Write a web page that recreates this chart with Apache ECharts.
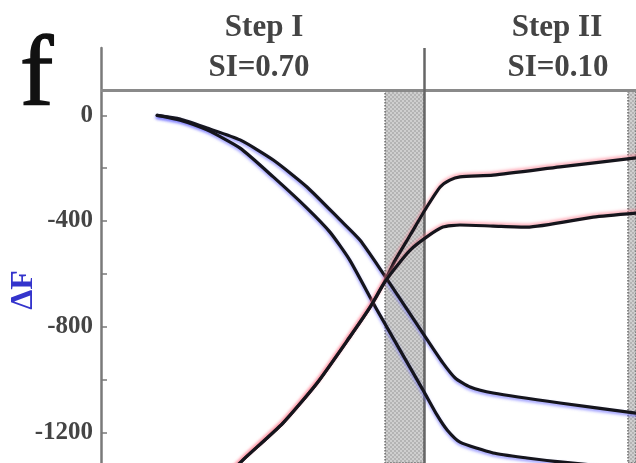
<!DOCTYPE html>
<html>
<head>
<meta charset="utf-8">
<script src="https://cdn.jsdelivr.net/npm/echarts@6/dist/echarts.min.js"></script>
<style>
  html, body { margin: 0; padding: 0; background: #ffffff; }
  #chart { width: 636px; height: 463px; }
</style>
</head>
<body>
<div id="chart"></div>
<script>
// ---- data (x: arbitrary progress units 0..100, y: ΔF) ----
const descendingUpper = [
  [10.5, 0], [14.8, -14], [19.8, -48], [26.0, -93], [32.2, -169], [38.5, -271],
  [44.7, -396], [48.4, -472], [52.7, -597], [57.8, -752], [60.9, -847],
  [63.9, -937], [66.2, -994], [69.0, -1028], [73.3, -1051], [85.8, -1089], [100, -1127]
];
const descendingLower = [
  [10.5, 0], [14.8, -18], [19.8, -55], [26.0, -124], [32.2, -233], [38.5, -351],
  [42.8, -442], [46.5, -548], [51.6, -737], [60.2, -1040], [62.8, -1134], [64.7, -1191],
  [67.1, -1237], [73.3, -1278], [79.6, -1297], [85.8, -1312], [100, -1339]
];
const ascendingUpper = [
  [23.2, -1373], [26.5, -1305], [34.0, -1165], [40.4, -1013], [46.5, -839],
  [50.3, -726], [52.7, -642], [55.0, -548], [57.8, -453], [60.9, -347],
  [63.4, -271], [65.2, -245], [67.1, -233], [73.3, -226], [85.8, -195], [100, -161]
];
const ascendingLower = [
  [23.2, -1373], [26.5, -1305], [34.0, -1165], [40.4, -1013], [46.5, -839],
  [50.3, -726], [52.7, -642], [55.0, -578], [57.8, -510], [60.9, -460],
  [63.9, -423], [67.1, -415], [73.3, -419], [79.6, -423], [92.0, -385], [100, -370]
];
const tickValues = [0, -200, -400, -600, -800, -1000, -1200];
const labelValues = [0, -400, -800, -1200];
const bands = [[53.1, 60.4], [98.5, 100]];
const stepBoundary = 60.4;
const headerLineValue = 94;
const stepTitles = ['Step I', 'Step II'];
const stepSI = ['SI=0.70', 'SI=0.10'];
const panelLetter = 'f';
const yName = 'ΔF';

// ---- pattern for shaded bands ----
const pat = document.createElement('canvas');
pat.width = 4; pat.height = 4;
const pc = pat.getContext('2d');
pc.fillStyle = '#cfcfcf'; pc.fillRect(0, 0, 4, 4);
pc.fillStyle = '#b4b4b4';
pc.fillRect(0, 0, 2, 2); pc.fillRect(2, 2, 2, 2);

const chart = echarts.init(document.getElementById('chart'), null, { renderer: 'canvas', width: 636, height: 463 });

const serif = '"Liberation Serif", "DejaVu Serif", serif';

function lineSeries(name, data, shadow, offY, extra) {
  return Object.assign({
    name: name,
    type: 'line',
    data: data,
    showSymbol: false,
    smooth: 0.2,
    clip: true,
    z: 5,
    lineStyle: {
      color: '#15151c', width: 3.2, cap: 'round', join: 'round',
      shadowColor: shadow, shadowBlur: 3, shadowOffsetY: offY
    },
    animation: false
  }, extra || {});
}

const option = {
  animation: false,
  grid: { left: 101, right: 0, top: 48, bottom: 0, containLabel: false },
  xAxis: { type: 'value', min: 0, max: 100, show: false },
  yAxis: {
    type: 'value', min: -1316, max: 255,
    axisLine: { show: true, onZero: false, lineStyle: { color: '#7a7a7a', width: 2.5 } },
    axisTick: { show: true, inside: true, length: 6, customValues: tickValues, lineStyle: { color: '#7a7a7a', width: 1.5 } },
    axisLabel: {
      show: true, customValues: labelValues, margin: 8,
      formatter: function (v) { return String(v); },
      fontFamily: serif, fontWeight: 'bold', fontSize: 25, color: '#444'
    },
    splitLine: { show: false }
  },
  graphic: [
    { type: 'text', x: 20, y: 79, style: { text: panelLetter, fontFamily: serif, fontSize: 100, fill: '#111', align: 'left', verticalAlign: 'middle', stroke: '#111', lineWidth: 1.5 } },
    { type: 'text', x: 24, y: 290, rotation: Math.PI / 2, style: { text: yName, fontFamily: serif, fontWeight: 'bold', fontSize: 32, fill: '#3434cc', align: 'center', verticalAlign: 'middle' } },
    { type: 'text', x: 264, y: 28, style: { text: stepTitles[0], fontFamily: serif, fontWeight: 'bold', fontSize: 31, fill: '#444', align: 'center', verticalAlign: 'middle' } },
    { type: 'text', x: 259, y: 68, style: { text: stepSI[0], fontFamily: serif, fontWeight: 'bold', fontSize: 31, fill: '#444', align: 'center', verticalAlign: 'middle' } },
    { type: 'text', x: 557, y: 28, style: { text: stepTitles[1], fontFamily: serif, fontWeight: 'bold', fontSize: 31, fill: '#444', align: 'center', verticalAlign: 'middle' } },
    { type: 'text', x: 558, y: 68, style: { text: stepSI[1], fontFamily: serif, fontWeight: 'bold', fontSize: 31, fill: '#444', align: 'center', verticalAlign: 'middle' } }
  ],
  series: [
    lineSeries('descending upper', descendingUpper, 'rgba(110,110,255,0.7)', 2, {
      markArea: {
        silent: true,
        itemStyle: { color: { image: pat, repeat: 'repeat' }, borderColor: '#6a6a6a', borderWidth: 1.5, borderType: 'dotted' },
        data: bands.map(b => [{ xAxis: b[0], yAxis: headerLineValue }, { xAxis: b[1], yAxis: -1316 }])
      },
      markLine: {
        silent: true, symbol: 'none', animation: false,
        label: { show: false },
        data: [
          { yAxis: headerLineValue, lineStyle: { color: '#8a8a8a', width: 3, type: 'solid' } },
          { xAxis: stepBoundary, lineStyle: { color: '#666', width: 2.5, type: 'solid' } }
        ]
      }
    }),
    lineSeries('descending lower', descendingLower, 'rgba(110,110,255,0.7)', 2),
    lineSeries('ascending upper', ascendingUpper, 'rgba(255,120,140,0.6)', -2),
    lineSeries('ascending lower', ascendingLower, 'rgba(255,120,140,0.6)', -2)
  ]
};
chart.setOption(option);
</script>
</body>
</html>
